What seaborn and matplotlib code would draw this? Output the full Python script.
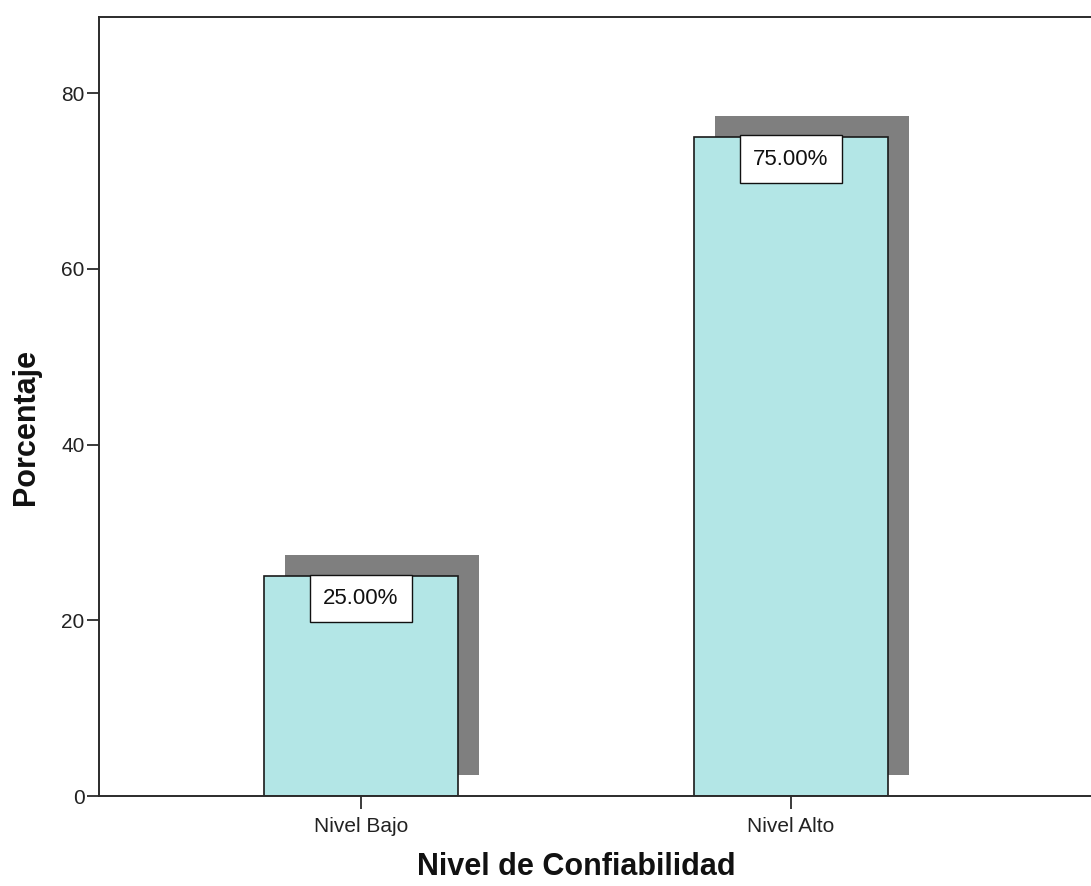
import matplotlib
matplotlib.use("Agg")
import matplotlib.pyplot as plt
import matplotlib.transforms as mtransforms
import seaborn as sns
import pandas as pd

# Datos
categorias = ["Nivel Bajo", "Nivel Alto"]
porcentajes = [25.0, 75.0]
etiquetas = ["25.00%", "75.00%"]
yticks = [0, 20, 40, 60, 80]

sns.set_theme(style="white")
plt.rcParams["font.family"] = ["Liberation Sans", "DejaVu Sans"]

df = pd.DataFrame({"Nivel": categorias, "Porcentaje": porcentajes})

fig = plt.figure(figsize=(10.91, 8.86), dpi=100)
ax = fig.add_axes([99 / 1091, 90 / 886, 992 / 1091, 779 / 886])

# Sombra gris desplazada detrás de cada barra
sns.barplot(data=df, x="Nivel", y="Porcentaje", order=categorias,
            color="#7f7f7f", saturation=1, width=0.451, linewidth=0,
            ax=ax, zorder=1)
sombra = list(ax.patches)
desplazamiento = mtransforms.ScaledTranslation(0.21, 0.21, fig.dpi_scale_trans)
for p in sombra:
    p.set_transform(ax.transData + desplazamiento)
    p.set_zorder(1)

# Barras principales
sns.barplot(data=df, x="Nivel", y="Porcentaje", order=categorias,
            color="#b3e6e6", saturation=1, width=0.451,
            edgecolor="#1a1a1a", linewidth=1.2, ax=ax, zorder=2)
for p in ax.patches[len(sombra):]:
    p.set_zorder(2)

# Etiquetas de valor
for i, (v, txt) in enumerate(zip(porcentajes, etiquetas)):
    ax.annotate(txt, xy=(i, v), xytext=(0, -16), textcoords="offset points",
                ha="center", va="center", fontsize=16, color="#111111",
                zorder=4,
                bbox=dict(boxstyle="square,pad=0.6", facecolor="white",
                          edgecolor="#111111", linewidth=1.0))

ax.set_xlim(-0.609, 1.698)
ax.set_ylim(0, 88.65)
ax.set_yticks(yticks)
ax.set_yticklabels([str(t) for t in yticks])

for side in ["left", "bottom", "top"]:
    ax.spines[side].set_color("#2b2b2b")
    ax.spines[side].set_linewidth(1.4)
ax.spines["right"].set_visible(False)

ax.tick_params(axis="both", which="major", direction="out", length=9,
               width=1.3, color="#2b2b2b", labelsize=15, labelcolor="#222222")
ax.tick_params(axis="y", pad=1.5)
ax.tick_params(axis="x", pad=6)
ax.tick_params(left=True, bottom=True)

ax.set_xlabel("Nivel de Confiabilidad", fontsize=22, fontweight="bold",
              color="#111111")
ax.set_ylabel("Porcentaje", fontsize=22, fontweight="bold", color="#111111")
ax.xaxis.set_label_coords(0.481, -0.072)
ax.yaxis.set_label_coords(-0.058, 0.474)

fig.savefig("out.png", dpi=100)
